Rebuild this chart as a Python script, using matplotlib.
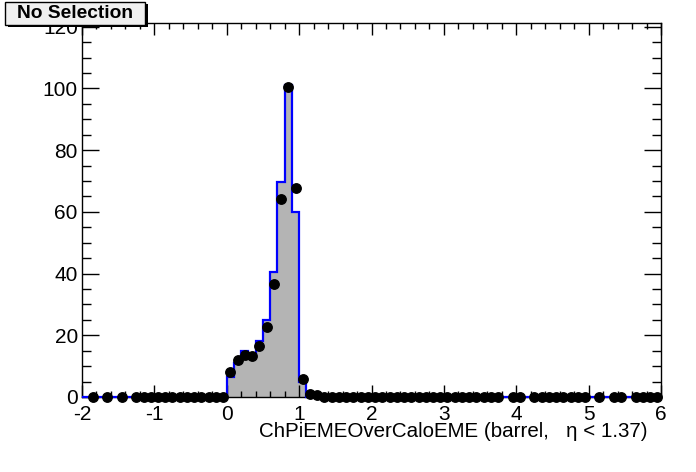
import numpy as np
import matplotlib
matplotlib.use("Agg")
import matplotlib.pyplot as plt
from matplotlib.patches import Rectangle
from matplotlib.ticker import MultipleLocator

plt.rcParams['font.family'] = ['Liberation Sans', 'DejaVu Sans']
plt.rcParams['axes.unicode_minus'] = False

# histogram: 80 bins from -2 to 6
x_lo, x_hi, n_bins = -2.0, 6.0, 80
hist_values = [
    0, 0, 0, 0, 0, 0, 0, 0, 0, 0,
    0, 0, 0, 0, 0, 0, 0, 0, 0, 0,
    6.4, 11.1, 15.0, 14.0, 18.3, 25.0, 40.4, 69.6, 101.0, 60.0,
    5.0, 0, 0, 0, 0, 0, 0, 0, 0, 0,
    0, 0, 0, 0, 0, 0, 0, 0, 0, 0,
    0, 0, 0, 0, 0, 0, 0, 0, 0, 0,
    0, 0, 0, 0, 0, 0, 0, 0, 0, 0,
    0, 0, 0, 0, 0, 0, 0, 0, 0, 0,
]
# points (None = no marker drawn for that bin)
N = None
point_values = [
    N, 0, N, 0, N, 0, N, 0, 0, 0,
    0, 0, 0, 0, 0, 0, 0, 0, 0, 0,
    8.0, 12.0, 13.6, 13.3, 16.6, 22.8, 36.7, 64.2, 100.6, 67.8,
    5.8, 1.0, 0.5, 0, 0, 0, 0, 0, 0, 0,
    0, 0, 0, 0, 0, 0, 0, 0, 0, 0,
    0, 0, 0, 0, 0, 0, 0, 0, N, 0,
    0, N, 0, 0, 0, 0, 0, 0, 0, 0,
    N, 0, N, 0, 0, N, 0, 0, 0, 0,
]

edges = np.linspace(x_lo, x_hi, n_bins + 1)
centers = 0.5 * (edges[:-1] + edges[1:])
pts = np.array([np.nan if v is None else v for v in point_values], dtype=float)

W, H = 696, 472
fig = plt.figure(figsize=(W / 100, H / 100), dpi=100)
ax = fig.add_axes([82 / W, 75 / H, 579 / W, 374 / H])

ax.stairs(hist_values, edges, fill=True, color='#b4b4b4', zorder=1)
ax.stairs(hist_values, edges, color='#0000ff', lw=1.6, zorder=3.5, clip_on=False)
ax.plot(centers, pts, 'o', color='black', ms=6.8, zorder=4, clip_on=False)

ax.set_xlim(x_lo, x_hi)
ax.set_ylim(0, 121.2)
ax.xaxis.set_major_locator(MultipleLocator(1))
ax.xaxis.set_minor_locator(MultipleLocator(0.2))
ax.yaxis.set_major_locator(MultipleLocator(20))
ax.yaxis.set_minor_locator(MultipleLocator(5))
ax.tick_params(axis='x', which='both', direction='in', top=True, width=1,
               labelsize=15, pad=5.5)
ax.tick_params(axis='x', which='major', length=8.6)
ax.tick_params(axis='x', which='minor', length=4.3)
ax.tick_params(axis='y', which='both', direction='in', right=True, width=1,
               labelsize=15, pad=3)
ax.tick_params(axis='y', which='major', length=12.4)
ax.tick_params(axis='y', which='minor', length=6.5)
for s in ax.spines.values():
    s.set_linewidth(1)
    s.set_zorder(3)

ax.set_xlabel('ChPiEMEOverCaloEME (barrel,   \u03b7 < 1.37)', fontsize=14.8, loc='right')
ax.xaxis.set_label_coords(0.9775, -0.066)

# title box with shadow
fig.patches.append(Rectangle((8 / W, 1 - 27 / H), 140 / W, 23 / H, transform=fig.transFigure,
                             facecolor='black', edgecolor='none', zorder=5))
fig.patches.append(Rectangle((5 / W, 1 - 25 / H), 140 / W, 23 / H, transform=fig.transFigure,
                             facecolor='#f0f0f0', edgecolor='black', lw=1, zorder=6))
fig.text(75 / W, 1 - 13.5 / H, 'No Selection', fontsize=13.8, weight='bold',
         ha='center', va='center', zorder=7)

fig.savefig('out.png', dpi=100)
